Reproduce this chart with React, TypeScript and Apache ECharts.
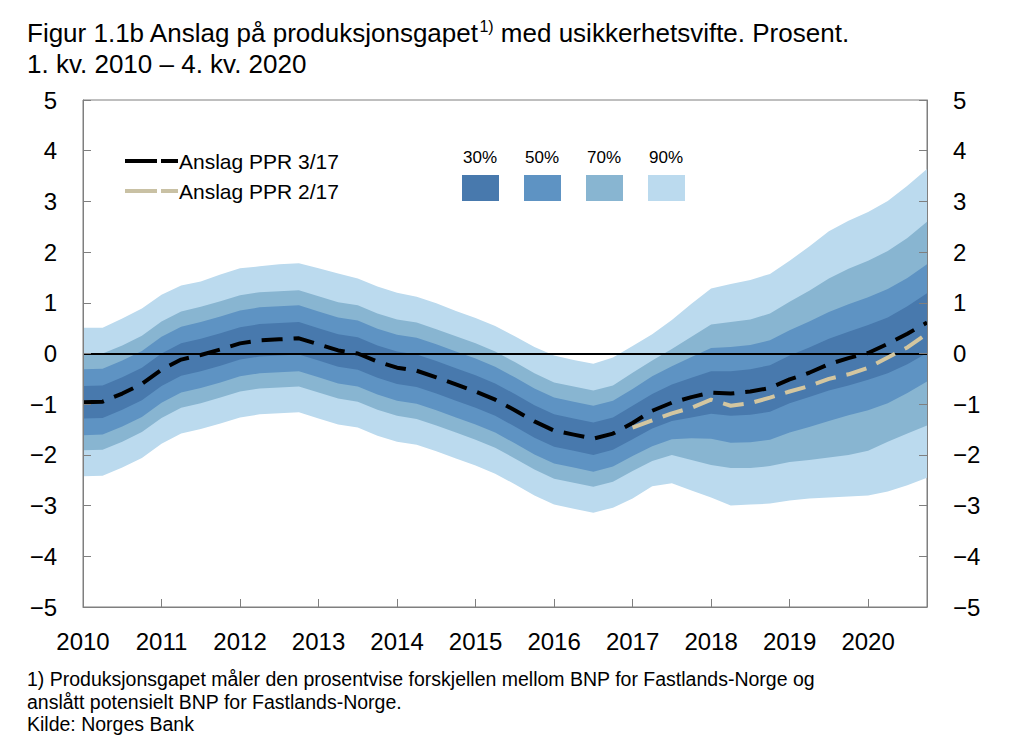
import React, { useEffect, useRef } from "react";
import * as echarts from "echarts";

const years = [2010, 2011, 2012, 2013, 2014, 2015, 2016, 2017, 2018, 2019, 2020];

// Anslag PPR 3/17 (central projection), quarterly 2010K1-2020K4
const central = [
  -0.96, -0.95, -0.79, -0.6,
  -0.32, -0.12, -0.03, 0.08,
  0.2, 0.26, 0.28, 0.3,
  0.18, 0.06, 0.0, -0.16,
  -0.28, -0.34, -0.47, -0.61,
  -0.75, -0.91, -1.12, -1.34,
  -1.52, -1.6, -1.68, -1.58,
  -1.37, -1.13, -0.97, -0.86,
  -0.77, -0.79, -0.75, -0.68,
  -0.51, -0.38, -0.21, -0.09,
  0.01, 0.19, 0.39, 0.61,
];

// Anslag PPR 2/17 (from 2017K1)
const ppr217 = [
  null, null, null, null, null, null, null, null, null, null, null, null, null, null,
  null, null, null, null, null, null, null, null, null, null, null, null, null, null,
  -1.46, -1.32, -1.18, -1.07,
  -0.91, -1.03, -0.98, -0.87,
  -0.75, -0.64, -0.5, -0.41,
  -0.28, -0.08, 0.12, 0.39,
];

const upper90 = [
  0.51, 0.51, 0.69, 0.89,
  1.16, 1.34, 1.42, 1.56,
  1.68, 1.72, 1.76, 1.78,
  1.68, 1.58, 1.48, 1.32,
  1.2, 1.12, 0.99, 0.84,
  0.7, 0.54, 0.34, 0.13,
  -0.04, -0.13, -0.2, -0.08,
  0.15, 0.38, 0.66, 0.98,
  1.28, 1.37, 1.45, 1.57,
  1.83, 2.11, 2.41, 2.62,
  2.79, 3.01, 3.31, 3.64,
];
const lower90 = [
  -2.42, -2.41, -2.25, -2.06,
  -1.78, -1.58, -1.49, -1.38,
  -1.26, -1.2, -1.18, -1.16,
  -1.28, -1.4, -1.46, -1.62,
  -1.74, -1.8, -1.93, -2.07,
  -2.21, -2.37, -2.58, -2.8,
  -2.98, -3.06, -3.14, -3.04,
  -2.86, -2.62, -2.56, -2.7,
  -2.84, -3.0, -2.98, -2.96,
  -2.9, -2.86, -2.84, -2.82,
  -2.8, -2.72, -2.6, -2.45,
];
const upper70 = [
  -0.01, 0.0, 0.16, 0.35,
  0.63, 0.83, 0.92, 1.03,
  1.15, 1.21, 1.23, 1.25,
  1.13, 1.01, 0.95, 0.79,
  0.67, 0.61, 0.48, 0.34,
  0.2, 0.04, -0.17, -0.39,
  -0.57, -0.65, -0.73, -0.63,
  -0.38, -0.14, 0.09, 0.33,
  0.57, 0.62, 0.67, 0.79,
  1.02, 1.24, 1.48, 1.67,
  1.83, 2.02, 2.28, 2.6,
];
const lower70 = [
  -1.91, -1.9, -1.74, -1.55,
  -1.27, -1.07, -0.98, -0.87,
  -0.75, -0.69, -0.67, -0.65,
  -0.77, -0.89, -0.95, -1.11,
  -1.23, -1.29, -1.42, -1.56,
  -1.7, -1.86, -2.07, -2.29,
  -2.47, -2.55, -2.63, -2.53,
  -2.32, -2.12, -2.0, -2.1,
  -2.2, -2.26, -2.26, -2.22,
  -2.14, -2.1, -2.05, -2.0,
  -1.92, -1.74, -1.58, -1.42,
];
const upper50 = [
  -0.31, -0.3, -0.14, 0.05,
  0.33, 0.53, 0.62, 0.73,
  0.85, 0.91, 0.93, 0.95,
  0.83, 0.71, 0.65, 0.49,
  0.37, 0.31, 0.18, 0.04,
  -0.1, -0.26, -0.47, -0.69,
  -0.87, -0.95, -1.03, -0.93,
  -0.7, -0.45, -0.25, -0.07,
  0.11, 0.13, 0.17, 0.26,
  0.46, 0.63, 0.82, 0.97,
  1.11, 1.27, 1.49, 1.76,
];
const lower50 = [
  -1.61, -1.6, -1.44, -1.25,
  -0.97, -0.77, -0.68, -0.57,
  -0.45, -0.39, -0.37, -0.35,
  -0.47, -0.59, -0.65, -0.81,
  -0.93, -0.99, -1.12, -1.26,
  -1.4, -1.56, -1.77, -1.99,
  -2.17, -2.25, -2.33, -2.23,
  -2.02, -1.83, -1.69, -1.67,
  -1.68, -1.76, -1.75, -1.7,
  -1.56, -1.45, -1.33, -1.22,
  -1.12, -0.98, -0.78, -0.55,
];
const upper30 = [
  -0.64, -0.63, -0.47, -0.28,
  0.0, 0.2, 0.29, 0.4,
  0.52, 0.58, 0.6, 0.62,
  0.5, 0.38, 0.32, 0.16,
  0.04, -0.02, -0.15, -0.29,
  -0.43, -0.59, -0.8, -1.02,
  -1.2, -1.28, -1.36, -1.26,
  -1.03, -0.8, -0.61, -0.48,
  -0.35, -0.35, -0.31, -0.23,
  -0.04, 0.12, 0.29, 0.43,
  0.56, 0.71, 0.93, 1.19,
];
const lower30 = [
  -1.28, -1.27, -1.11, -0.92,
  -0.64, -0.44, -0.35, -0.24,
  -0.12, -0.06, -0.04, -0.02,
  -0.14, -0.26, -0.32, -0.48,
  -0.6, -0.66, -0.79, -0.93,
  -1.07, -1.23, -1.44, -1.66,
  -1.84, -1.92, -2.0, -1.9,
  -1.69, -1.48, -1.33, -1.26,
  -1.19, -1.23, -1.21, -1.15,
  -0.98, -0.86, -0.73, -0.63,
  -0.52, -0.39, -0.21, 0.01,
];

const bandLabels = ["30%", "50%", "70%", "90%"];
const bandColors = ["#4879ad", "#5e93c3", "#88b5d1", "#bbdaee"];
const lineColors = { ppr317: "#000000", ppr217: "#d3c6a0" };

const FONT = "'Liberation Sans', Arial, Helvetica, sans-serif";

export default function App() {
  const ref = useRef<HTMLDivElement>(null);

  useEffect(() => {
    const el = ref.current;
    if (!el) return;
    const chart = echarts.init(el, null, { renderer: "svg" });

    const quarters = years.flatMap((y) => [1, 2, 3, 4].map((q) => `${q}. kv. ${y}`));
    const diff = (hi: number[], lo: number[]) => hi.map((v, i) => +(v - lo[i]).toFixed(4));

    const bands: [number[], number[], string, string][] = [
      [lower90, upper90, bandColors[3], "b90"],
      [lower70, upper70, bandColors[2], "b70"],
      [lower50, upper50, bandColors[1], "b50"],
      [lower30, upper30, bandColors[0], "b30"],
    ];

    const series: any[] = [];
    bands.forEach(([lo, hi, col, key]) => {
      series.push({
        type: "line",
        stack: key,
        stackStrategy: "all",
        data: lo,
        symbol: "none",
        silent: true,
        lineStyle: { width: 0, opacity: 0 },
        z: 2,
      });
      series.push({
        type: "line",
        stack: key,
        stackStrategy: "all",
        data: diff(hi, lo),
        symbol: "none",
        silent: true,
        lineStyle: { width: 0, opacity: 0 },
        areaStyle: { color: col, opacity: 1 },
        z: 2,
      });
    });
    // zero line
    series.push({
      type: "line",
      data: [],
      silent: true,
      z: 3,
      markLine: {
        silent: true,
        symbol: "none",
        label: { show: false },
        lineStyle: { color: "#000", width: 2, type: "solid" },
        data: [{ yAxis: 0 }],
        animation: false,
      },
    });
    series.push({
      name: "Anslag PPR 3/17",
      type: "line",
      data: central,
      symbol: "none",
      silent: true,
      z: 4,
      lineStyle: { color: lineColors.ppr317, width: 4, type: [21, 11] },
    });
    series.push({
      name: "Anslag PPR 2/17",
      type: "line",
      data: ppr217,
      symbol: "none",
      silent: true,
      z: 5,
      lineStyle: { color: lineColors.ppr217, width: 4, type: [21, 11] },
    });

    const yLabelFmt = (v: number) => (v < 0 ? "\u2212" + Math.abs(v) : String(v));
    const axisGrey = "#7f7f7f";

    const yAxisBase = {
      type: "value",
      min: -5,
      max: 5,
      interval: 1,
      z: 10,
      axisLine: { show: true, onZero: false, lineStyle: { color: axisGrey, width: 1 } },
      axisTick: { show: true, inside: true, length: 8, lineStyle: { color: axisGrey } },
      splitLine: { show: false },
      axisLabel: { formatter: yLabelFmt, fontSize: 24, color: "#000", fontFamily: FONT, margin: 26 },
    };

    const graphic: any[] = [
      {
        type: "text",
        left: 27,
        top: 18,
        style: {
          text: "{a|Figur 1.1b Anslag på produksjonsgapet}{s|1)}{a| med usikkerhetsvifte. Prosent.}",
          rich: {
            a: { fontSize: 26, fontFamily: FONT, fill: "#000", lineHeight: 30 },
            s: { fontSize: 16, fontFamily: FONT, fill: "#000", lineHeight: 30, verticalAlign: "top" },
          },
        },
      },
      {
        type: "text",
        left: 27,
        top: 51,
        style: { text: "1. kv. 2010 \u2013 4. kv. 2020", fontSize: 26, fontFamily: FONT, fill: "#000" },
      },
      // legend lines
      { type: "line", shape: { x1: 125, y1: 161, x2: 157, y2: 161 }, style: { stroke: lineColors.ppr317, lineWidth: 4 } },
      { type: "line", shape: { x1: 161, y1: 161, x2: 178, y2: 161 }, style: { stroke: lineColors.ppr317, lineWidth: 4 } },
      { type: "line", shape: { x1: 125, y1: 191, x2: 157, y2: 191 }, style: { stroke: "#c9c1a4", lineWidth: 4 } },
      { type: "line", shape: { x1: 161, y1: 191, x2: 178, y2: 191 }, style: { stroke: "#c9c1a4", lineWidth: 4 } },
      {
        type: "text",
        x: 179,
        y: 161,
        style: { text: "Anslag PPR 3/17", fontSize: 21, fontFamily: FONT, fill: "#000", verticalAlign: "middle" },
      },
      {
        type: "text",
        x: 179,
        y: 191,
        style: { text: "Anslag PPR 2/17", fontSize: 21, fontFamily: FONT, fill: "#000", verticalAlign: "middle" },
      },
      // footnotes
      {
        type: "text",
        left: 27,
        top: 668,
        style: {
          text:
            "1) Produksjonsgapet måler den prosentvise forskjellen mellom BNP for Fastlands-Norge og\nanslått potensielt BNP for Fastlands-Norge.\nKilde: Norges Bank",
          fontSize: 19.5,
          lineHeight: 22.5,
          fontFamily: FONT,
          fill: "#000",
        },
      },
    ];
    bandLabels.forEach((lab, i) => {
      const x = 462 + i * 62;
      graphic.push({
        type: "text",
        x: x + 18,
        y: 157,
        style: { text: lab, fontSize: 17, fontFamily: FONT, fill: "#000", align: "center", verticalAlign: "middle" },
      });
      graphic.push({
        type: "rect",
        shape: { x, y: 175, width: 37, height: 26 },
        style: { fill: bandColors[i] },
      });
    });

    chart.setOption({
      animation: false,
      grid: {
        left: 83,
        top: 100,
        width: 844,
        height: 507,
        show: true,
        borderColor: axisGrey,
        borderWidth: 1,
        backgroundColor: "transparent",
      },
      xAxis: {
        type: "category",
        data: quarters,
        boundaryGap: false,
        z: 10,
        axisLine: { show: true, onZero: false, lineStyle: { color: axisGrey, width: 1 } },
        axisTick: { show: true, inside: true, length: 8, interval: (i: number) => i % 4 === 0, lineStyle: { color: axisGrey } },
        axisLabel: {
          interval: (i: number) => i % 4 === 0,
          formatter: (v: string) => v.slice(-4),
          fontSize: 24,
          color: "#000",
          fontFamily: FONT,
          margin: 22,
        },
        splitLine: { show: false },
      },
      yAxis: [
        { ...yAxisBase, position: "left" },
        { ...yAxisBase, position: "right" },
      ],
      series,
      graphic,
    });

    return () => chart.dispose();
  }, []);

  return <div ref={ref} style={{ position: "absolute", left: 0, top: 0, width: 1024, height: 755 }} />;
}
